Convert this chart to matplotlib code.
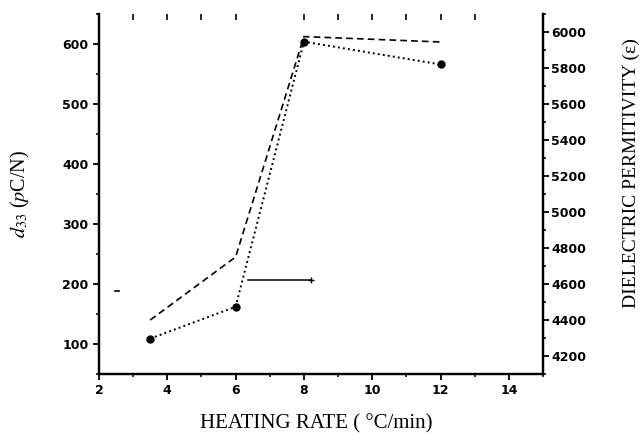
import matplotlib
matplotlib.use('Agg')
import matplotlib.pyplot as plt
from matplotlib.ticker import MultipleLocator

plt.rcParams['mathtext.fontset'] = 'stix'

# datos
rate = [3.5, 6, 8, 12]
d33 = [109, 162, 604, 566]
permit = [4400, 4750, 5975, 5945]
top_ticks = [3, 4, 5, 6, 8, 9, 10, 11, 12, 13]
x_ticks = [2, 4, 6, 8, 10, 12, 14]
left_ticks = [100, 200, 300, 400, 500, 600]
right_ticks = [4200, 4400, 4600, 4800, 5000, 5200, 5400, 5600, 5800, 6000]

fig = plt.figure(figsize=(6.41, 4.40), dpi=100)
ax = fig.add_axes([0.1544, 0.15, 0.6927, 0.818])
ax2 = ax.twinx()

tick_font = {'family': 'DejaVu Sans', 'weight': 'bold', 'size': 9}
serif = 'Liberation Serif'

ax.plot(rate, d33, color='black', lw=1.4, linestyle=(0, (1, 1.6)),
        marker='o', ms=5, zorder=3)
ax2.plot(rate, permit, color='black', lw=1.2, linestyle=(0, (4, 2.5)))

# flecha hacia el eje derecho y marca del eje izquierdo
ax.plot([6.35, 8.22], [206, 206], color='black', lw=1.1)
ax.plot([8.2], [206], marker='+', ms=5, color='black', mew=1)
ax.plot([2.47, 2.6], [189, 189], color='black', lw=1.2)

ax.set_xlim(2, 15)
ax.set_ylim(50, 650)
ax2.set_ylim(4100, 6100)

ax.xaxis.set_minor_locator(MultipleLocator(1))
ax.yaxis.set_minor_locator(MultipleLocator(50))
ax2.yaxis.set_minor_locator(MultipleLocator(100))

for a in (ax, ax2):
    for s in a.spines.values():
        s.set_linewidth(1.6)
    a.spines['top'].set_visible(False)
    a.tick_params(which='major', direction='out', length=4, width=1.3)
    a.tick_params(which='minor', direction='out', length=2.5, width=1.1)

ax.set_xticks(x_ticks)
ax.set_xticklabels([str(v) for v in x_ticks], fontdict=tick_font)
ax.set_yticks(left_ticks)
ax.set_yticklabels([str(v) for v in left_ticks], fontdict=tick_font)
ax2.set_yticks(right_ticks)
ax2.set_yticklabels([str(v) for v in right_ticks], fontdict=tick_font)
ax2.tick_params(axis='y', pad=2)

sec = ax.secondary_xaxis('top')
sec.set_xticks(top_ticks)
sec.set_xticklabels([])
sec.spines['top'].set_visible(False)
sec.tick_params(direction='in', length=4, width=1.2)

ax.set_xlabel('HEATING RATE ( °C/min)', family=serif, fontsize=15)
ax.xaxis.set_label_coords(0.49, -0.11)
ax.set_ylabel(r'$d_{33}$ ($p$C/N)', family=serif, fontsize=14.5)
ax.yaxis.set_label_coords(-0.15, 0.5)
ax2.set_ylabel('DIELECTRIC PERMITIVITY (ε)', family=serif, fontsize=14,
               rotation=90, va='center')
ax2.yaxis.set_label_coords(1.198, 0.558)

plt.savefig('out.png', dpi=100)
